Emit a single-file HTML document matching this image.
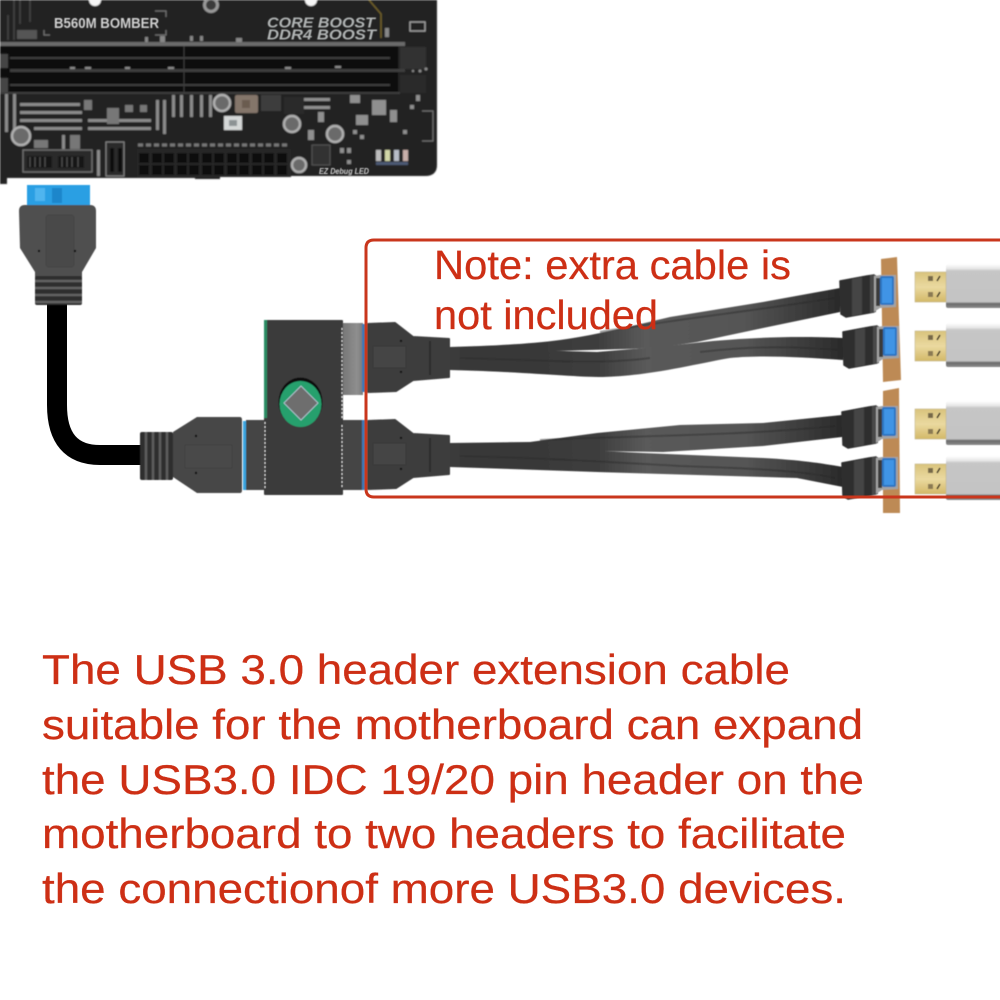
<!DOCTYPE html>
<html lang="en"><head><meta charset="utf-8"><title>USB 3.0 header extension</title>
<style>html,body{margin:0;padding:0;background:#fff}svg{display:block}
.t{font-family:"Liberation Sans",sans-serif;fill:#cd2f15;stroke:#cd2f15;stroke-width:.25}</style></head>
<body>
<svg width="1000" height="1000" viewBox="0 0 1000 1000" xmlns="http://www.w3.org/2000/svg">
<defs>
<filter id="b"><feGaussianBlur stdDeviation="0.8"/></filter>
<filter id="b2"><feGaussianBlur stdDeviation="0.5"/></filter>
<linearGradient id="silver" x1="0" y1="0" x2="0" y2="1"><stop offset="0" stop-color="#fff"/><stop offset=".1" stop-color="#e8e8e8"/><stop offset=".16" stop-color="#c6c6c6"/><stop offset=".86" stop-color="#c4c4c4"/><stop offset=".9" stop-color="#6b6b6b"/><stop offset="1" stop-color="#8b8b8b"/></linearGradient>
<linearGradient id="gold" x1="0" y1="0" x2="0" y2="1"><stop offset="0" stop-color="#d9c37c"/><stop offset=".5" stop-color="#ead9a0"/><stop offset="1" stop-color="#d3b868"/></linearGradient>
<linearGradient id="flat" x1="0" y1="0" x2="1" y2="0"><stop offset="0" stop-color="#3a3a3a"/><stop offset=".2" stop-color="#383838"/><stop offset=".38" stop-color="#3e3e3e"/><stop offset=".5" stop-color="#5a5a5a"/><stop offset=".75" stop-color="#555"/><stop offset=".9" stop-color="#3c3c3c"/><stop offset="1" stop-color="#2a2a2a"/></linearGradient>
<linearGradient id="gp" x1="0" y1="0" x2="1" y2="0"><stop offset="0" stop-color="#777"/><stop offset=".7" stop-color="#8f8f8f"/><stop offset="1" stop-color="#7a7a7a"/></linearGradient>
<g id="usb">
  <path d="M0 4 L27 -1 L34 -2 V35 L6 40 L1 37Z" fill="#2f2f2f" stroke="#2f2f2f" stroke-width="1.5" stroke-linejoin="round"/>
  <path d="M12 2 L22 0 V37 L12 39Z" fill="#444"/>
  <path d="M30 -2 L36 -2 V35 L30 36Z" fill="#4a4a4a"/>
  <path d="M34 -1 L40 -2 H56 V30 L40 31 L34 35Z" fill="#a3a3a3"/>
  <rect x="36" y="1" width="4" height="28" fill="#3b3b3b"/>
  <rect x="40" y="-1" width="14" height="29" rx="2" fill="#2d74c0"/>
  <rect x="42" y="1" width="10" height="25" fill="#3f94e6"/>
</g>
<g id="plug">
  <rect x="946" y="-8" width="60" height="44" fill="url(#silver)" rx="2"/>
  <rect x="915" y="0" width="31" height="30" fill="url(#gold)" stroke="#c4b88e" stroke-width=".6"/>
  <rect x="928" y="4" width="5" height="5" fill="#77694a"/><rect x="928" y="20" width="5" height="5" fill="#8b7a52"/>
  <path d="M937 9 L940 4 M937 25 L940 20" stroke="#3a3320" stroke-width="1.6"/>
</g>
<g id="conn">
  <path d="M368 324 L395 323 L413 337 L449 339 V377 L413 380 L396 391 L368 392Z" fill="#3e3e3e" stroke="#3e3e3e" stroke-width="2" stroke-linejoin="round"/>
  <rect x="373" y="346" width="33" height="22" fill="#444" stroke="#383838"/>
  <path d="M430 341 V375" stroke="#282828" stroke-width="1.5"/>
  <circle cx="401" cy="341" r="1.2" fill="#111"/><circle cx="401" cy="372" r="1.2" fill="#111"/>
</g>
</defs>

<!-- Motherboard -->
<g filter="url(#b)">
<path d="M0 0H437V165Q437 176 425 176H220V179H195V178H0Z" fill="#232323"/>
<rect x="0" y="140" width="7" height="44" fill="#222"/>
<circle cx="95" cy="0" r="6" fill="#f5f5f5"/><circle cx="311" cy="0" r="6" fill="#f5f5f5"/>
<circle cx="211" cy="5" r="8" fill="#999"/><circle cx="211" cy="5" r="5" fill="#3a3a3a"/>
<path d="M369 0 L381 14 V38" stroke="#7d6a2b" stroke-width="1.2" fill="none"/>
<rect x="17" y="30" width="20" height="9" fill="#555"/>
<rect x="410" y="22" width="15" height="9" fill="none" stroke="#aaa" stroke-width="1.2"/>
<path d="M20 0V24 M30 0V22 M8 15V40 M14 0V40" stroke="#444" stroke-width="1.5"/>
<path d="M155 11h11v6 M155 35h11v-5 M44 30v5h6" stroke="#777" stroke-width="1" fill="none"/>
<g fill="#888"><rect x="145" y="37" width="3" height="5"/><rect x="160" y="36" width="5" height="6"/><rect x="190" y="36" width="3" height="5"/><rect x="200" y="36" width="3" height="5"/><rect x="236" y="38" width="6" height="4"/><rect x="385" y="28" width="4" height="9"/></g>
<rect x="0" y="42" width="405" height="4" fill="#6a6a6a"/>
<rect x="0" y="46" width="398" height="47" fill="#111"/>
<g fill="#3e3e3e"><rect x="10" y="57" width="380" height="2"/><rect x="10" y="69" width="395" height="3"/><rect x="10" y="84" width="380" height="2"/><rect x="0" y="92" width="400" height="2"/></g>
<path d="M184 46V92" stroke="#3c3c3c" stroke-width="1"/>
<rect x="0" y="54" width="8" height="14" fill="#444"/><rect x="0" y="78" width="8" height="14" fill="#444"/>
<rect x="400" y="47" width="26" height="22" fill="#303030"/><rect x="400" y="75" width="26" height="18" fill="#2b2b2b"/>
<g fill="#8d8d8d"><rect x="70" y="67" width="5" height="2"/><rect x="85" y="67" width="6" height="2"/><rect x="125" y="67" width="5" height="2"/><rect x="168" y="67" width="6" height="2"/><rect x="285" y="67" width="6" height="2"/><rect x="335" y="66" width="6" height="2"/><circle cx="420" cy="71" r="1.5"/><circle cx="426" cy="69" r="1.5"/><circle cx="413" cy="71" r="1.2"/></g>
<!-- traces -->
<g fill="#8b8b8b">
<rect x="20" y="103" width="60" height="3"/><rect x="20" y="111" width="62" height="3"/><rect x="20" y="119" width="62" height="3"/><rect x="34" y="127" width="48" height="3"/>
<rect x="88" y="119" width="63" height="3"/><rect x="88" y="127" width="63" height="3"/>
<rect x="172" y="95" width="3" height="22"/><rect x="180" y="95" width="3" height="22"/><rect x="190" y="95" width="3" height="22"/><rect x="200" y="95" width="3" height="22"/><rect x="209" y="95" width="3" height="22"/>
<rect x="156" y="100" width="3" height="30"/><rect x="163" y="100" width="3" height="34"/><rect x="5" y="94" width="3" height="38"/><rect x="13" y="94" width="3" height="36"/>
<rect x="97" y="150" width="3" height="26"/><rect x="62" y="135" width="3" height="14"/>
</g>
<g fill="#777"><rect x="84" y="100" width="8" height="10"/><rect x="107" y="108" width="12" height="16"/><rect x="125" y="105" width="8" height="7"/><rect x="140" y="105" width="7" height="7"/><rect x="34" y="140" width="14" height="8"/><rect x="70" y="135" width="10" height="14"/></g>
<!-- small connector -->
<rect x="23" y="150" width="69" height="22" fill="#2c2c2c" stroke="#777" stroke-width="1.2"/>
<g fill="#151515"><rect x="27" y="156" width="25" height="12"/><rect x="58" y="156" width="26" height="12"/></g>
<path d="M30 157v10M35 157v10M40 157v10M45 157v10M62 157v10M67 157v10M72 157v10M78 157v10" stroke="#555"/>
<rect x="106" y="142" width="18" height="34" fill="#2a2a2a" stroke="#888" stroke-width="1"/>
<rect x="110" y="148" width="4" height="24" fill="#111"/><rect x="118" y="148" width="4" height="24" fill="#111"/>
<!-- 24 pin -->
<rect x="137" y="149" width="154" height="28" fill="#272727"/>
<path d="M138 145H288" stroke="#777" stroke-width="3" stroke-dasharray="5 3"/>
<g fill="#0b0b0b">
<rect x="139" y="153" width="10" height="10"/><rect x="152" y="153" width="10" height="10"/><rect x="164" y="153" width="10" height="10"/><rect x="177" y="153" width="10" height="10"/><rect x="189" y="153" width="10" height="10"/><rect x="202" y="153" width="10" height="10"/><rect x="214" y="153" width="10" height="10"/><rect x="227" y="153" width="10" height="10"/><rect x="239" y="153" width="10" height="10"/><rect x="252" y="153" width="10" height="10"/><rect x="264" y="153" width="10" height="10"/><rect x="277" y="153" width="10" height="10"/>
<rect x="139" y="165" width="10" height="10"/><rect x="152" y="165" width="10" height="10"/><rect x="164" y="165" width="10" height="10"/><rect x="177" y="165" width="10" height="10"/><rect x="189" y="165" width="10" height="10"/><rect x="202" y="165" width="10" height="10"/><rect x="214" y="165" width="10" height="10"/><rect x="227" y="165" width="10" height="10"/><rect x="239" y="165" width="10" height="10"/><rect x="252" y="165" width="10" height="10"/><rect x="264" y="165" width="10" height="10"/><rect x="277" y="165" width="10" height="10"/>
</g>
<!-- capacitors -->
<g stroke="#b0b0b0" stroke-width="2.5" fill="#6a6a6a"><circle cx="21" cy="136" r="9"/><circle cx="222" cy="103" r="8"/><circle cx="292" cy="124" r="8"/><circle cx="335" cy="134" r="8"/><circle cx="299" cy="165" r="7"/></g>
<!-- parts -->
<rect x="235" y="95" width="23" height="18" rx="2" fill="#84766a"/><rect x="242" y="100" width="8" height="8" fill="#6a5c50"/>
<rect x="261" y="95" width="20" height="16" fill="#3c3c3c"/><rect x="284" y="97" width="20" height="17" fill="#2b2b2b"/>
<rect x="224" y="116" width="18" height="14" fill="#d5d8d8"/><rect x="229" y="120" width="8" height="6" fill="#8c9294"/>
<rect x="312" y="145" width="18" height="20" fill="#333" stroke="#555"/>
<g fill="#8f8f8f"><rect x="304" y="98" width="26" height="3"/><rect x="304" y="106" width="26" height="3"/><rect x="356" y="115" width="12" height="10"/><rect x="372" y="100" width="14" height="15"/><rect x="350" y="95" width="10" height="8"/><rect x="390" y="110" width="7" height="12"/><rect x="308" y="130" width="6" height="10"/><rect x="318" y="112" width="6" height="10"/><rect x="340" y="148" width="4" height="5"/><rect x="347" y="148" width="4" height="5"/><rect x="347" y="160" width="4" height="4"/><rect x="353" y="130" width="4" height="4"/><rect x="360" y="135" width="4" height="4"/><rect x="410" y="105" width="4" height="4"/><rect x="403" y="130" width="4" height="4"/><rect x="416" y="95" width="4" height="6"/></g>
<g fill="#bdbdbd"><rect x="376" y="150" width="5" height="11"/></g><rect x="385" y="150" width="5" height="11" fill="#d2d7a8"/><rect x="394" y="150" width="5" height="11" fill="#b7bdc8"/><rect x="403" y="150" width="5" height="11" fill="#c9b0aa"/>
<rect x="376" y="162" width="32" height="3" fill="#4e5a75"/>
<path d="M422 111h11v30h-11" stroke="#777" stroke-width="1" fill="none"/>
</g>
<g filter="url(#b2)">
<text x="54" y="28" font-family="Liberation Sans,sans-serif" font-weight="700" font-size="15" fill="#d0d0d0" textLength="105" lengthAdjust="spacingAndGlyphs">B560M BOMBER</text>
<text x="267" y="27.5" font-family="Liberation Sans,sans-serif" font-weight="700" font-style="italic" font-size="15" fill="#b0b4b4" textLength="108" lengthAdjust="spacingAndGlyphs">CORE BOOST</text>
<text x="267" y="39.5" font-family="Liberation Sans,sans-serif" font-weight="700" font-style="italic" font-size="15" fill="#b0b4b4" textLength="109" lengthAdjust="spacingAndGlyphs">DDR4 BOOST</text>
<text x="319" y="174" font-family="Liberation Sans,sans-serif" font-weight="700" font-style="italic" font-size="8.5" fill="#cfcfcf" textLength="50" lengthAdjust="spacingAndGlyphs">EZ Debug LED</text>
</g>

<!-- Cables -->
<path d="M57 300V405Q57 455 100 455H145" fill="none" stroke="#000" stroke-width="20"/>

<g filter="url(#b2)">
<!-- vertical connector -->
<rect x="27" y="185" width="63" height="21" fill="#2c9fe3"/>
<rect x="35" y="188" width="10" height="13" fill="#4fb5ef"/><rect x="52" y="188" width="10" height="15" fill="#1f86cb"/>
<path d="M19 211Q19 205 25 205H90Q96 205 96 211V248L82 272V277H35V272L20 248Z" fill="#4f4f4f"/>
<rect x="46" y="215" width="28" height="52" rx="3" fill="#4a4a4a" stroke="#444"/>
<circle cx="39" cy="251" r="1.2" fill="#111"/><circle cx="75" cy="251" r="1.2" fill="#111"/>
<rect x="35" y="276" width="47" height="29" rx="2" fill="#2e2e2e"/>
<path d="M35 281H82M35 288H82M35 295H82M35 302H82" stroke="#616161" stroke-width="2.6"/>

<!-- horizontal connector -->
<rect x="140" y="432" width="33" height="48" rx="2" fill="#2e2e2e"/>
<path d="M146 432V480M153 432V480M160 432V480M167 432V480" stroke="#5d5d5d" stroke-width="2.6"/>
<path d="M173 432L197 417H240Q242 417 242 420V490Q242 493 240 493H197L173 477Z" fill="#464646"/>
<rect x="185" y="445" width="47" height="23" fill="#484848" stroke="#404040"/>
<circle cx="196" cy="436" r="1.2" fill="#111"/><circle cx="196" cy="473" r="1.2" fill="#111"/>
<rect x="243" y="421" width="3.5" height="69" fill="#3aa5e0"/>
<rect x="246" y="420" width="20" height="70" fill="#444"/>

<!-- module -->
<rect x="343" y="323" width="20" height="72" fill="url(#gp)"/><rect x="362" y="324" width="3" height="68" fill="#3f78b5"/>
<rect x="343" y="420" width="20" height="70" fill="#444"/><rect x="362" y="420" width="3" height="70" fill="#3f78b5"/>
<rect x="264" y="320" width="79" height="175" rx="1" fill="#3a3a3a"/>
<rect x="264" y="320" width="3" height="98" fill="#2c8c63"/>
<path d="M342 328V420M342 425V488M265 422V490" stroke="#ddd" stroke-width="1" stroke-dasharray="2 2"/>
<ellipse cx="300.500" cy="402" rx="22" ry="24.500" fill="#111"/>
<ellipse cx="300.500" cy="404" rx="21" ry="23" fill="#27a06d"/>
<path d="M301 386L318 403L301 420L284 403Z" fill="#6e6e6e" stroke="#bcd" stroke-width=".8"/>

<!-- flat cables -->
<path d="M450 347C490 346 530 344 560 340C597 335 640 324 670 317L763 302L840 288V312L763 328L697 342L657 348L520 352L450 352Z" fill="url(#flat)"/>
<path d="M450 348L530 350L597 352L657 347L713 341C760 337 800 336 843 338V360C800 357 760 355 730 358C700 363 650 376 603 377C570 377 530 372 450 370Z" fill="url(#flat)"/>
<path d="M450 443L530 442L597 433L680 425L763 423L842 415V437L763 446L663 452L530 450L450 450Z" fill="url(#flat)"/>
<path d="M450 445L530 447L643 453L763 458C800 460 820 463 843 467V487L797 478L697 475L597 472L450 467Z" fill="url(#flat)"/>
<path d="M460 358C540 360 600 365 650 358M700 352C760 345 800 347 840 350M460 456C540 458 610 462 680 466C740 468 800 470 835 478M540 440C620 436 740 436 835 426M600 332C670 320 760 310 835 298" stroke="#2a2a2a" stroke-width="2" fill="none" opacity=".45"/>

<use href="#conn"/>
<use href="#conn" y="97"/>

<!-- brown strips -->
<path d="M881 259L897 257L901 380L883 382Z" fill="#bd8a55"/>
<path d="M883 391L899 388L900 513L883 513Z" fill="#bd8a55"/>
<use href="#usb" x="840" y="277"/>
<use href="#usb" x="843" y="328"/>
<use href="#usb" x="842" y="408"/>
<use href="#usb" x="842" y="459"/>
<use href="#plug" y="272"/>
<use href="#plug" y="331"/>
<use href="#plug" y="409"/>
<use href="#plug" y="464"/>
</g>

<!-- Red frame -->
<path d="M1000 240H374Q366 240 366 248V489Q366 497 374 497H1000" fill="none" stroke="#c9361c" stroke-width="3"/>

<!-- Text -->
<text class="t" x="434" y="279" font-size="41" textLength="357" lengthAdjust="spacingAndGlyphs">Note: extra cable is</text>
<text class="t" x="434" y="329" font-size="41" textLength="224" lengthAdjust="spacingAndGlyphs">not included</text>
<text class="t" x="42" y="684" font-size="42" textLength="748" lengthAdjust="spacingAndGlyphs">The USB 3.0 header extension cable</text>
<text class="t" x="42" y="739" font-size="42" textLength="821" lengthAdjust="spacingAndGlyphs">suitable for the motherboard can expand</text>
<text class="t" x="42" y="794" font-size="42" textLength="822" lengthAdjust="spacingAndGlyphs">the USB3.0 IDC 19/20 pin header on the</text>
<text class="t" x="42" y="848" font-size="42" textLength="804" lengthAdjust="spacingAndGlyphs">motherboard to two headers to facilitate</text>
<text class="t" x="42" y="903" font-size="42" textLength="804" lengthAdjust="spacingAndGlyphs">the connectionof more USB3.0 devices.</text>
</svg>
</body></html>
